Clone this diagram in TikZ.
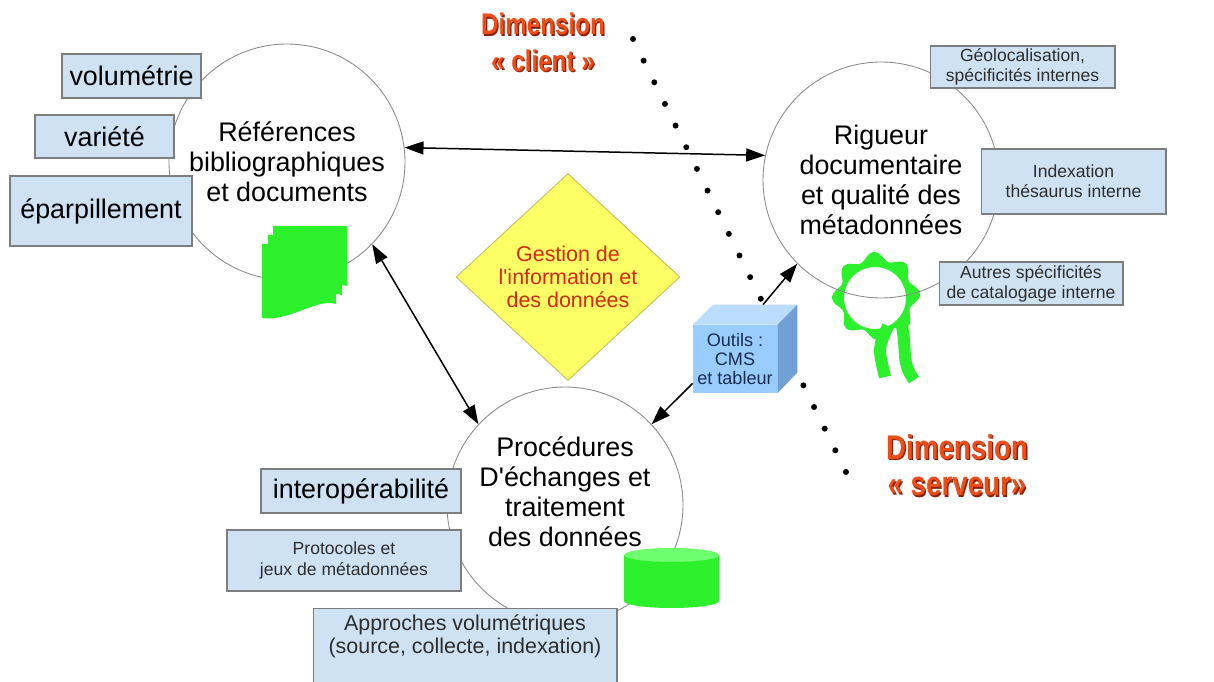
\documentclass[tikz,border=0pt]{standalone}
\usepackage{fontspec}
\setmainfont{Liberation Sans}
\usetikzlibrary{shapes.geometric,arrows.meta}

\definecolor{boxblue}{RGB}{207,226,243}
\definecolor{boxline}{RGB}{125,125,125}
\definecolor{circline}{RGB}{140,140,140}
\definecolor{textgray}{RGB}{45,45,45}
\definecolor{icongreen}{RGB}{45,240,45}
\definecolor{icontop}{RGB}{110,255,110}
\definecolor{diamfill}{RGB}{255,255,102}
\definecolor{diamline}{RGB}{190,190,95}
\definecolor{diamred}{RGB}{214,40,10}
\definecolor{cubefront}{RGB}{153,204,255}
\definecolor{cubetopc}{RGB}{187,221,255}
\definecolor{cubeside}{RGB}{112,160,214}
\definecolor{cubetext}{RGB}{25,45,80}
\definecolor{dimred}{RGB}{236,78,24}
\definecolor{dimshade}{RGB}{140,30,10}

\newcommand\shadowed[1]{\leavevmode\rlap{\kern0.9pt\raisebox{-0.9pt}{\color{dimshade}#1}}#1}
\newcommand\dimline[1]{\scalebox{0.81}[1]{\shadowed{#1}}}

\begin{document}
\begin{tikzpicture}[x=0.02cm, y=-0.02cm,
  circ/.style={circle, draw=circline, line width=0.5pt, minimum size=4.72cm, align=center, bigfont},
  info/.style={draw=boxline, fill=boxblue, line width=0.6pt, align=center, inner sep=1pt},
  bigfont/.style={font=\fontsize{15.3}{17}\selectfont, text=black},
  midfont/.style={font=\fontsize{12.2}{13}\selectfont, text=textgray},
  smallfont/.style={font=\fontsize{10}{11.5}\selectfont, text=textgray},
  arr/.style={line width=0.85pt, -{Triangle[length=0.38cm,width=0.26cm]}},
  darr/.style={line width=0.85pt, {Triangle[length=0.38cm,width=0.26cm]}-{Triangle[length=0.38cm,width=0.26cm]}},
  dimlabel/.style={align=center, text=dimred}]
\path[use as bounding box, fill=white] (0,0) rectangle (1214,682);

% seal, under the circle line
\draw[icongreen, line width=0.24cm] (888,326) .. controls (878,348) .. (885,377);
\draw[icongreen, line width=0.24cm] (902,326) .. controls (907,352) and (901,362) .. (914,380);
\fill[icongreen, even odd rule]
  plot[domain=0:357, samples=120] ({876+(40+4*cos(8*\x+20))*cos(\x)}, {296+(40+4*cos(8*\x+20))*sin(\x)}) -- cycle
  (875,298) circle[radius=31];

% the three poles
\node[circ] (ref) at (287,162) {Références\\bibliographiques\\et documents};
\node[circ] (rig) at (881,180) {Rigueur\\documentaire\\et qualité des\\métadonnées};
\node[circ] (proc) at (565,505) {};
\node[bigfont, align=center] (proc-txt) at (565,492) {Procédures\\D\textquotesingle échanges et\\traitement\\des données};

% documents
\foreach \dx/\dy in {0/0,-5/9,-11/18}
  \fill[icongreen, shift={(\dx,\dy)}] (273,226) -- (347,226) -- (347,286)
    .. controls (328,280) and (300,304) .. (273,300) -- cycle;

% database
\fill[icongreen] (624,555) -- (624,601) arc[start angle=180, end angle=0, x radius=47.5, y radius=7] -- (719,555) -- cycle;
\fill[icontop] (671.5,555) ellipse[x radius=47.5, y radius=7];

% boxes
\node[info, bigfont, minimum width=2.78cm, minimum height=0.88cm] (vol) at (131.5,76) {volumétrie};
\node[info, bigfont, minimum width=2.78cm, minimum height=0.86cm] (var) at (104.5,136.5) {variété};
\node[info, bigfont, minimum width=3.64cm, minimum height=1.40cm] (epa) at (101,211) {éparpillement};
\node[info, smallfont, minimum width=3.70cm, minimum height=0.84cm] (geo) at (1022.5,67) {Géolocalisation,\\spécificités internes};
\node[info, smallfont, minimum width=3.70cm, minimum height=1.30cm] (idx) at (1073.5,181.5) {Indexation\\thésaurus interne};
\node[info, smallfont, minimum width=3.68cm, minimum height=0.86cm] (aut) at (1031,283.5) {Autres spécificités\\de catalogage interne};
\node[info, bigfont, minimum width=4.00cm, minimum height=0.88cm] (inter) at (361,491) {interopérabilité};
\node[info, smallfont, minimum width=4.68cm, minimum height=1.22cm] (proto) at (344,560.5) {Protocoles et\\jeux de métadonnées};
\node[info, minimum width=6.08cm, minimum height=1.68cm, anchor=north] (appr) at (465,608) {};
\node[midfont, align=center] (appr-txt) at (465,636) {Approches volumétriques\\(source, collecte, indexation)};

% centre
\node[diamond, draw=diamline, fill=diamfill, line width=0.5pt, aspect=1.08, inner sep=0pt,
  minimum width=4.48cm, minimum height=4.14cm, align=center, text=diamred,
  font=\fontsize{12.2}{13}\selectfont] (gest) at (568,277) {Gestion de\\l\textquotesingle information et\\des données};

% client / serveur border
\coordinate (dtop) at (633,39);
\coordinate (dbot) at (846,472);
\draw[line width=3.4pt, line cap=round, dash pattern=on 0pt off 0.4826cm] (dtop) -- (dbot);

% tools
\node[fill=cubefront, minimum width=1.68cm, minimum height=1.36cm, inner sep=0pt, align=center,
  text=cubetext, font=\fontsize{10.3}{10.8}\selectfont] (cube) at (735,359) {Outils :\\CMS\\et tableur};
\fill[cubetopc] (cube.north west) -- (cube.north east) -- ++(20,-20) -- ++(-84,0) -- cycle;
\fill[cubeside] (cube.north east) -- ++(20,-20) -- ++(0,68) -- (cube.south east) -- cycle;
\path (cube.north) ++(28,-20) coordinate (cube-top);
\path (cube.south west) ++(0,-10) coordinate (cube-left);

% links
\draw[darr] (ref.7) -- (rig.168);
\draw[darr] (ref.-44) -- (proc.137);
\draw[arr] (cube-top) -- (rig.225);
\draw[arr] (cube-left) -- (proc.43);

\node[dimlabel, font=\fontsize{17}{21}\bfseries\selectfont] (client) at (543,43) {\dimline{Dimension}\\\dimline{« client »}};
\node[dimlabel, font=\fontsize{19.5}{21}\bfseries\selectfont] (serveur) at (957,466) {\dimline{Dimension}\\\dimline{« serveur»}};
\end{tikzpicture}
\end{document}
